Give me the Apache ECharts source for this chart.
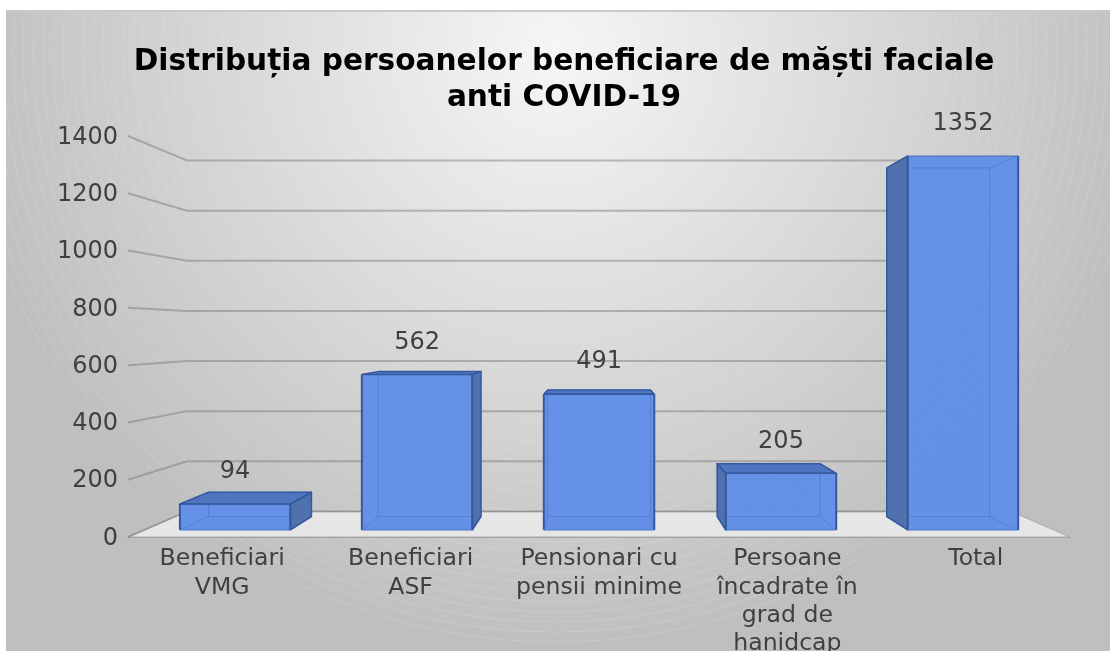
<!DOCTYPE html>
<html><head><meta charset="utf-8">
<style>html,body{margin:0;padding:0;background:#fff}#c{width:1110px;height:651px}</style>
<script src="https://cdn.jsdelivr.net/npm/echarts@6/dist/echarts.min.js"></script>
</head><body><div id="c"></div>
<script>
const categories = ['Beneficiari\nVMG','Beneficiari\nASF','Pensionari cu\npensii minime','Persoane\nîncadrate în\ngrad de\nhanidcap','Total'];
const values = [94,562,491,205,1352];
const yTicks = [0,200,400,600,800,1000,1200,1400];
const titleText = 'Distribuția persoanelor beneficiare de măști faciale\nanti COVID-19';

// perspective of the 3-D scene
const VX=600, VY=332, S_WALL=0.875, S_BAR_FRONT=0.9658, S_BAR_BACK=0.9, BAR_FRAC=0.607;
const P=(pt,s)=>[VX+(pt[0]-VX)*s, VY+(pt[1]-VY)*s];

const chart = echarts.init(document.getElementById('c'),null,{renderer:'canvas'});

const rings=[];
for(let r=12;r<=600;r+=10){
  rings.push({type:'circle',silent:true,z:-9,shape:{cx:555,cy:50,r:r},
    style:{fill:null,stroke:'rgba(255,255,255,'+(0.03+0.15*r/600).toFixed(3)+')',lineWidth:0.8}});
}

function renderFloor(params,api){
  const rect=params.coordSys;
  const L=rect.x,R=rect.x+rect.width;
  const y0=api.coord([0,0])[1];
  const pts=[[L,y0],[R,y0],P([R,y0],S_WALL),P([L,y0],S_WALL)];
  return {type:'polygon',shape:{points:pts},style:{fill:'#e6e6e6',stroke:'#a8a8a8',lineWidth:1},silent:true};
}
function renderGrid(params,api){
  const rect=params.coordSys;
  const L=rect.x,R=rect.x+rect.width;
  const y=api.coord([0,api.value(0)])[1];
  const a=P([L,y],S_WALL),b=P([R,y],S_WALL);
  return {type:'polyline',silent:true,shape:{points:[[L,y],a,b]},
    style:{fill:null,stroke:'rgba(115,115,115,0.45)',lineWidth:2}};
}
function renderBar(params,api){
  const i=api.value(0),v=api.value(1);
  const c=api.coord([i,v]);
  const y0=api.coord([i,0])[1];
  const hw=api.size([1,0])[0]*BAR_FRAC/2;
  const l=c[0]-hw,r=c[0]+hw;
  const F=s=>({tl:P([l,c[1]],s),tr:P([r,c[1]],s),br:P([r,y0],s),bl:P([l,y0],s)});
  const f=F(S_BAR_FRONT),b=F(S_BAR_BACK);
  const edge='#35599e', thin='#4a78cf', see='rgba(66,110,200,0.5)';
  const poly=(pts,fill,w,st)=>({type:'polygon',shape:{points:pts},silent:true,
    style:{fill:fill,stroke:st===undefined?edge:st,lineWidth:w===undefined?1:w,lineJoin:'round'}});
  const line=(pts,st,w)=>({type:'polyline',shape:{points:pts},silent:true,style:{fill:null,stroke:st,lineWidth:w}});
  const inner='rgba(100,144,230,0.92)', outer='rgba(78,112,172,0.96)', topOuter='rgba(78,116,190,0.96)';
  const leftSideOut=b.bl[0]<f.bl[0];   // bar right of vanishing point
  const rightSideOut=b.br[0]>f.br[0];  // bar left of vanishing point
  const topOut=b.tl[1]<f.tl[1];
  const left=[b.tl,f.tl,f.bl,b.bl], right=[f.tr,b.tr,b.br,f.br], top=[b.tl,b.tr,f.tr,f.tl], bottom=[b.bl,b.br,f.br,f.bl], back=[b.tl,b.tr,b.br,b.bl];
  const kids=[];
  kids.push(poly(back,'rgba(100,144,230,0.95)',0,null));
  kids.push(poly(bottom,'rgba(96,140,226,0.95)',0,null));
  if(!leftSideOut) kids.push(poly(left,inner,0,null));
  if(!rightSideOut) kids.push(poly(right,inner,0,null));
  if(!topOut) kids.push(poly(top,inner,0,null));
  kids.push(poly([f.tl,f.tr,f.br,f.bl],'rgba(100,144,230,0.85)',0,null));
  // inner edges seen through the translucent front
  kids.push(poly(back,null,1,see));
  kids.push(line([b.tl,f.tl],see,1),line([b.tr,f.tr],see,1),line([b.br,f.br],see,1),line([b.bl,f.bl],see,1));
  if(leftSideOut) kids.push(poly(left,outer,1.5));
  if(rightSideOut) kids.push(poly(right,outer,1.5));
  if(topOut) kids.push(poly(top,topOuter,1.5));
  kids.push(line([f.tl,f.bl],edge,2),line([f.tr,f.br],edge,2),line([f.tl,f.tr],topOut?edge:'#4a6eb0',1.2),line([f.bl,f.br],thin,1));
  // value label, over the front top edge of the bar
  kids.push({type:'text',silent:true,style:{text:String(v),x:VX+(c[0]-VX)*S_BAR_FRONT,y:f.tl[1]-32,
    align:'center',verticalAlign:'middle',fill:'#404040',fontSize:24,fontFamily:'DejaVu Sans'}});
  return {type:'group',children:kids};
}

chart.setOption({
  animation:false,
  backgroundColor:'#fff',
  graphic:[
    {type:'rect',z:-10,silent:true,shape:{x:6,y:11,width:1104,height:640},
     style:{fill:new echarts.graphic.RadialGradient(555,50,595,[
       {offset:0,color:'#f6f6f6'},{offset:1,color:'#bfbfbf'}],true),stroke:null}},
    {type:'group',z:-9,silent:true,children:rings},
    {type:'rect',z:-8,silent:true,shape:{x:6,y:10,width:1104,height:2},style:{fill:'#c8c8c8'}}
  ],
  title:{text:titleText,left:559,textAlign:'center',top:39,
    textStyle:{fontFamily:'DejaVu Sans',fontWeight:'bold',fontSize:29.6,lineHeight:36,color:'#000'}},
  grid:{left:128,width:942,top:136,height:401,outerBoundsMode:'none'},
  xAxis:{type:'category',data:categories,
    axisTick:{show:false},axisLine:{show:true,lineStyle:{color:'#a0a0a0',width:1}},
    axisLabel:{interval:0,color:'#404040',fontFamily:'DejaVu Sans',fontSize:23.6,lineHeight:28.3,margin:8,verticalAlign:'top'},
    splitLine:{show:false}},
  yAxis:{type:'value',min:0,max:1400,interval:200,
    axisLine:{show:false},axisTick:{show:false},splitLine:{show:false},
    axisLabel:{color:'#404040',fontFamily:'DejaVu Sans',fontSize:24,margin:10,verticalAlign:'top',lineHeight:3,formatter:v=>String(v)}},
  series:[
    {type:'custom',coordinateSystem:'cartesian2d',z:1,clip:false,data:[0],renderItem:renderFloor,encode:{x:0}},
    {type:'custom',coordinateSystem:'cartesian2d',z:2,clip:false,data:yTicks.map(t=>[t]),renderItem:renderGrid,encode:{y:0}},
    {type:'custom',coordinateSystem:'cartesian2d',z:3,clip:false,data:values.map((v,i)=>[i,v]),renderItem:renderBar,encode:{x:0,y:1}}
  ]
});
</script></body></html>
